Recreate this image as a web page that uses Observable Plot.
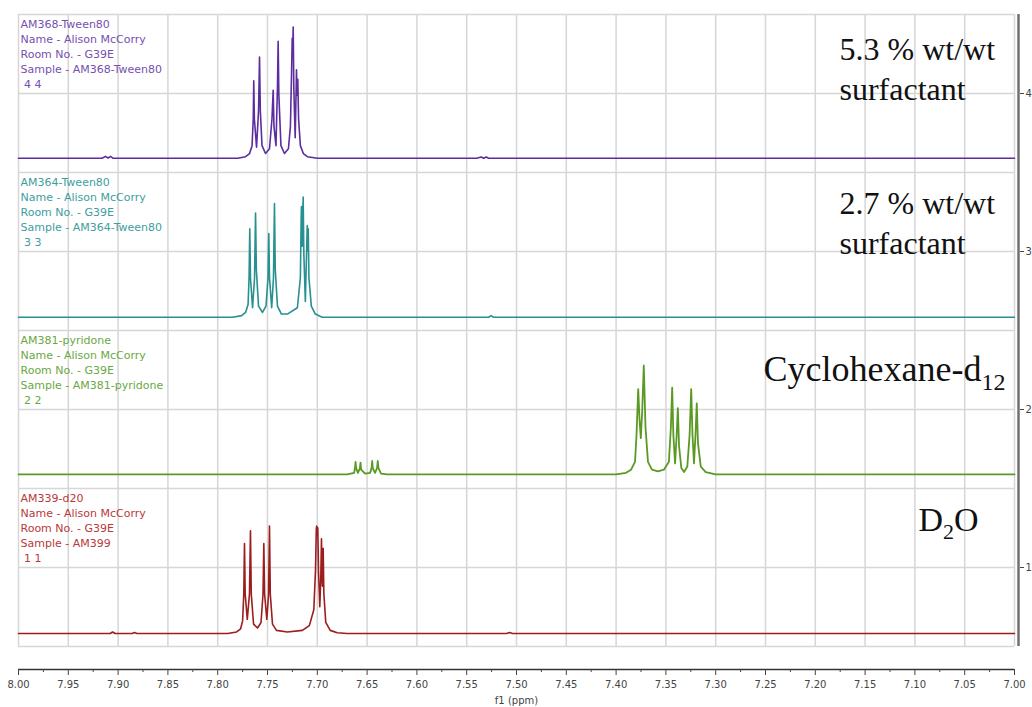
<!DOCTYPE html>
<html><head><meta charset="utf-8">
<script src="https://cdn.jsdelivr.net/npm/d3@7"></script>
<script src="https://cdn.jsdelivr.net/npm/@observablehq/plot@0.6"></script>
<style>body{margin:0;background:#fff}svg{display:block}</style>
</head><body><div id="chart"></div>
<script>
// ---- scales / ticks ----
const xDomain = [8.00, 7.00];
const yDomain = [0.3544, 4.5];
const xTickValues = [8.00,7.95,7.90,7.85,7.80,7.75,7.70,7.65,7.60,7.55,7.50,7.45,7.40,7.35,7.30,7.25,7.20,7.15,7.10,7.05,7.00];
const xMinorTicks = [7.975,7.925,7.875,7.825,7.775,7.725,7.675,7.625,7.575,7.525,7.475,7.425,7.375,7.325,7.275,7.225,7.175,7.125,7.075,7.025];
const yGridValues = [0.5,1,1.5,2,2.5,3,3.5,4,4.5];
const yTickValues = [1,2,3,4];

// ---- spectra (ppm, intensity above own baseline) ----
const spectrumNumbers = [4, 3, 2, 1];
const baselineLevels = [3.59, 2.584, 1.589, 0.582];
const lineColors = ["#5b2d9e", "#279090", "#5a9a24", "#9c1d1d"];
const textColors = ["#7650b0", "#3d9e9e", "#6aa844", "#b83a3a"];
const headerTitles = ["AM368-Tween80", "AM364-Tween80", "AM381-pyridone", "AM339-d20"];
const headerNames = ["Name - Alison McCorry", "Name - Alison McCorry", "Name - Alison McCorry", "Name - Alison McCorry"];
const headerRooms = ["Room No. - G39E", "Room No. - G39E", "Room No. - G39E", "Room No. - G39E"];
const headerSamples = ["Sample - AM368-Tween80", "Sample - AM364-Tween80", "Sample - AM381-pyridone", "Sample - AM399"];
const headerIndex = ["4 4", "3 3", "2 2", "1 1"];

const purpleTrace = [
 [8.00,0],[7.916,0],[7.9127,0.012],[7.910,0.002],[7.9076,0.012],[7.905,0],
 [7.780,0],[7.772,0.01],[7.768,0.03],[7.7655,0.08],[7.7643,0.25],[7.7638,0.49],[7.7632,0.25],
 [7.7610,0.07],[7.7590,0.30],[7.7580,0.64],[7.7572,0.30],[7.7555,0.08],[7.7520,0.03],
 [7.7480,0.06],[7.7455,0.25],[7.7443,0.43],[7.7435,0.20],[7.7415,0.08],[7.7400,0.45],
 [7.7393,0.74],[7.7386,0.40],[7.7365,0.08],[7.7330,0.03],[7.7290,0.06],[7.7270,0.20],
 [7.7258,0.55],[7.7252,0.76],[7.7246,0.70],[7.7242,0.83],[7.7236,0.45],[7.7222,0.13],
 [7.7212,0.45],[7.7209,0.56],[7.7203,0.40],[7.7196,0.50],[7.7188,0.25],[7.7170,0.08],
 [7.7140,0.03],[7.7100,0.01],[7.7000,0],
 [7.540,0],[7.5355,0.008],[7.533,0],[7.5305,0.008],[7.528,0],[7.00,0]
];
const tealTrace = [
 [8.00,0],[7.7850,0],[7.7760,0.01],[7.7720,0.03],[7.7695,0.08],[7.7685,0.25],[7.7678,0.56],
 [7.7671,0.25],[7.7650,0.06],[7.7630,0.25],[7.7620,0.66],[7.7612,0.30],[7.7590,0.07],
 [7.7550,0.03],[7.7515,0.07],[7.7495,0.25],[7.7487,0.53],[7.7480,0.25],[7.7458,0.06],
 [7.7440,0.25],[7.7430,0.72],[7.7422,0.30],[7.7400,0.07],[7.7360,0.02],[7.7300,0.02],
 [7.7200,0.06],[7.7170,0.25],[7.7162,0.62],[7.7159,0.70],[7.7152,0.45],[7.7146,0.65],
 [7.7142,0.76],[7.7135,0.40],[7.7120,0.10],[7.7108,0.40],[7.7101,0.58],[7.7096,0.42],
 [7.7091,0.56],[7.7084,0.25],[7.7060,0.07],[7.7020,0.02],[7.6950,0],
 [7.528,0],[7.5255,0.01],[7.523,0],[7.00,0]
];
const greenTrace = [
 [8.00,0],[7.6700,0],[7.6630,0.01],[7.6620,0.05],[7.6616,0.08],[7.6610,0.04],[7.6592,0.01],
 [7.6572,0.04],[7.6566,0.075],[7.6560,0.03],[7.6520,0.005],[7.6470,0.01],[7.6455,0.04],
 [7.6449,0.085],[7.6443,0.04],[7.6420,0.01],[7.6400,0.04],[7.6393,0.085],[7.6386,0.04],
 [7.6360,0.005],[7.6300,0],
 [7.4000,0],[7.3900,0.01],[7.3850,0.03],[7.3810,0.08],[7.3795,0.25],[7.3778,0.54],
 [7.3765,0.35],[7.3752,0.23],[7.3738,0.40],[7.3722,0.69],[7.3705,0.30],[7.3680,0.08],
 [7.3640,0.03],[7.3580,0.02],[7.3520,0.03],[7.3470,0.08],[7.3450,0.30],[7.3437,0.55],
 [7.3425,0.25],[7.3408,0.07],[7.3392,0.25],[7.3380,0.42],[7.3368,0.18],[7.3345,0.04],
 [7.3318,0.015],[7.3285,0.05],[7.3262,0.25],[7.3246,0.54],[7.3233,0.25],[7.3218,0.07],
 [7.3203,0.25],[7.3190,0.45],[7.3178,0.20],[7.3150,0.05],[7.3100,0.015],[7.3000,0],[7.00,0]
];
const redTrace = [
 [8.00,0],[7.908,0],[7.9055,0.01],[7.903,0],[7.886,0],[7.8835,0.006],[7.881,0],
 [7.7900,0],[7.7810,0.01],[7.7770,0.03],[7.7750,0.08],[7.7738,0.25],[7.7731,0.57],
 [7.7724,0.25],[7.7703,0.09],[7.7681,0.25],[7.7671,0.65],[7.7663,0.25],[7.7640,0.06],
 [7.7600,0.035],[7.7565,0.07],[7.7545,0.25],[7.7537,0.57],[7.7529,0.25],[7.7507,0.09],
 [7.7489,0.25],[7.7480,0.68],[7.7472,0.25],[7.7450,0.06],[7.7410,0.02],[7.7300,0.01],
 [7.7150,0.02],[7.7080,0.05],[7.7035,0.15],[7.7018,0.40],[7.7010,0.66],[7.7006,0.68],
 [7.7000,0.62],[7.6995,0.67],[7.6988,0.40],[7.6975,0.17],[7.6965,0.35],[7.6958,0.60],
 [7.6952,0.35],[7.6948,0.30],[7.6941,0.54],[7.6934,0.25],[7.6915,0.07],[7.6870,0.02],
 [7.6800,0.005],[7.6700,0],
 [7.510,0],[7.507,0.006],[7.504,0],[7.00,0]
];
const traces = [purpleTrace, tealTrace, greenTrace, redTrace];
const lineWidths = [1.6, 1.6, 1.8, 1.6];

// ---- annotations ----
const annotationTop = "5.3 % wt/wt\nsurfactant";
const annotationSecond = "2.7 % wt/wt\nsurfactant";
const annotationThird = "Cyclohexane-d12";
const annotationFourth = "D2O";
const axisLabel = "f1 (ppm)";

const grid = "#d6d6d6";
const marks = [
  Plot.ruleX(xTickValues, {y1: 0.5, y2: 4.5, stroke: grid, strokeWidth: 1.5}),
  Plot.ruleY(yGridValues, {x1: xDomain[0], x2: xDomain[1], stroke: grid, strokeWidth: 1.5})
];

spectrumNumbers.forEach((n, i) => {
  const data = traces[i].map(([ppm, v]) => ({ppm, y: baselineLevels[i] + v}));
  marks.push(Plot.line(data, {x: "ppm", y: "y", stroke: lineColors[i], strokeWidth: lineWidths[i], curve: "linear"}));
  const label = [headerTitles[i], headerNames[i], headerRooms[i], headerSamples[i], "\u00a0" + headerIndex[i]].join("\n");
  marks.push(Plot.text([label], {x: () => xDomain[0], y: () => n + 0.5, text: d => d, textAnchor: "start", lineAnchor: "top",
    dx: 2, dy: 3, fill: textColors[i], fontSize: 11, lineHeight: 1.36}));
});

const serif = "'Liberation Serif', 'Times New Roman', serif";
marks.push(
  Plot.text([annotationTop], {frameAnchor: "top-left", text: d => d, textAnchor: "start", lineAnchor: "top", dx: 821, dy: 17, fontSize: 32, lineHeight: 1.25, fontFamily: serif, fill: "#111"}),
  Plot.text([annotationSecond], {frameAnchor: "top-left", text: d => d, textAnchor: "start", lineAnchor: "top", dx: 821, dy: 171, fontSize: 32, lineHeight: 1.25, fontFamily: serif, fill: "#111"}),
  Plot.text([annotationThird], {frameAnchor: "top-right", text: d => d, textAnchor: "end", lineAnchor: "top", dx: -9, dy: 341, fontSize: 36, fontFamily: serif, fill: "#111"}),
  Plot.text([annotationFourth], {frameAnchor: "top-right", text: d => d, textAnchor: "end", lineAnchor: "top", dx: -36, dy: 492, fontSize: 34, fontFamily: serif, fill: "#111"})
);

// axes
marks.push(
  Plot.ruleY([yDomain[0]], {stroke: "#333", strokeWidth: 1.5}),
  Plot.axisX({ticks: xTickValues, tickSize: 6, tickPadding: 5, tickFormat: d3.format(".2f"), fontSize: 10, color: "#444", label: null}),
  Plot.axisX({ticks: xMinorTicks, tickSize: 3, tickFormat: () => "", color: "#444", label: null}),
  Plot.text([axisLabel], {frameAnchor: "bottom", text: d => d, dy: 31, lineAnchor: "middle", fontSize: 10, fill: "#444"}),
  Plot.ruleX([xDomain[1]], {y1: 0.5, y2: 4.5, dx: 4, stroke: "#707070", strokeWidth: 2.5}),
  Plot.axisY({anchor: "right", ticks: yTickValues, tickSize: 4, tickPadding: 2, dx: 5, tickFormat: d3.format("d"), fontSize: 10, color: "#444", label: null})
);

const chart = Plot.plot({
  width: 1032, height: 707,
  marginTop: 14, marginBottom: 38, marginLeft: 18, marginRight: 18,
  x: {domain: xDomain},
  y: {domain: yDomain},
  style: {fontFamily: "'DejaVu Sans', Verdana, sans-serif", fontSize: "10px", background: "#fff", overflow: "visible"},
  marks
});

chart.querySelectorAll("text").forEach(t => {
  if (t.textContent === "Cyclohexane-d12") t.innerHTML = 'Cyclohexane-d<tspan dy="9" font-size="24">12</tspan>';
  else if (t.textContent === "D2O") t.innerHTML = 'D<tspan dy="8" font-size="22">2</tspan><tspan dy="-8">O</tspan>';
});
document.getElementById("chart").appendChild(chart);
</script>
</body></html>
